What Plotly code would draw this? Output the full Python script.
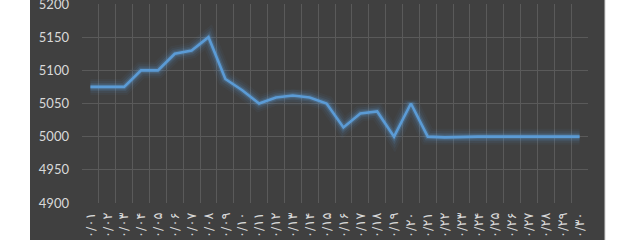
import plotly.graph_objects as go

fa = str.maketrans("0123456789", "۰۱۲۳۴۵۶۷۸۹")
days = list(range(1, 31))
labels = [("0/%02d" % d).translate(fa) for d in days]
values = [5075, 5075, 5075, 5100, 5100, 5125, 5130, 5150, 5087, 5070,
          5050, 5059, 5062, 5059, 5050, 5014, 5035, 5038, 5000, 5050,
          5000, 4999, 5000, 5000, 5000, 5000, 5000, 5000, 5000, 5000]
y_ticks = [4900, 4950, 5000, 5050, 5100, 5150, 5200]

W, H = 635, 240
L, R, T, B = 82, 47, 4, 37
pw, ph = W - L - R, H - T - B

fig = go.Figure()
# glow layers
for w, a in [(16, 0.05), (12, 0.08), (8, 0.14), (5, 0.25)]:
    fig.add_trace(go.Scatter(x=labels, y=values, mode="lines",
                             line=dict(color="rgba(91,155,213,%s)" % a, width=w),
                             hoverinfo="skip", showlegend=False))
fig.add_trace(go.Scatter(x=labels, y=values, mode="lines",
                         line=dict(color="#5b9bd5", width=2.6),
                         showlegend=False))

fig.update_layout(
    width=W, height=H,
    margin=dict(l=L, r=R, t=T, b=B, autoexpand=False),
    paper_bgcolor="#404040",
    plot_bgcolor="#404040",
    shapes=[
        dict(type="rect", xref="paper", yref="paper",
             x0=-L / pw, x1=(30 - L) / pw, y0=-B / ph - 0.1, y1=1 + T / ph + 0.1,
             fillcolor="white", line=dict(width=0), layer="below"),
        dict(type="rect", xref="paper", yref="paper",
             x0=(605 - L) / pw, x1=(W - L) / pw + 0.01, y0=-B / ph - 0.1, y1=1 + T / ph + 0.1,
             fillcolor="white", line=dict(width=0), layer="below"),
        dict(type="line", xref="paper", yref="paper",
             x0=(605 - L) / pw, x1=(605 - L) / pw, y0=-B / ph - 0.1, y1=1 + T / ph + 0.1,
             line=dict(color="#d0d0d0", width=1), layer="below"),
    ],
    xaxis=dict(
        type="category", tickson="boundaries", showgrid=True, automargin=False,
        range=[-0.5, len(labels) - 0.5],
        gridcolor="#5a5a5a", gridwidth=1, tickangle=-90,
        tickfont=dict(family="DejaVu Sans", size=13, color="#d9d9d9"),
        showline=False, zeroline=False, ticks="", ticklabelstandoff=6,
    ),
    yaxis=dict(
        range=[4900, 5200], tickvals=y_ticks, showgrid=True, automargin=False,
        gridcolor="#5a5a5a", gridwidth=1, ticklabeloverflow="allow",
        tickfont=dict(family="Lato", size=13, color="#d9d9d9"),
        showline=False, zeroline=False, ticks="", ticklabelstandoff=12,
    ),
)
fig.write_html("out.html")
